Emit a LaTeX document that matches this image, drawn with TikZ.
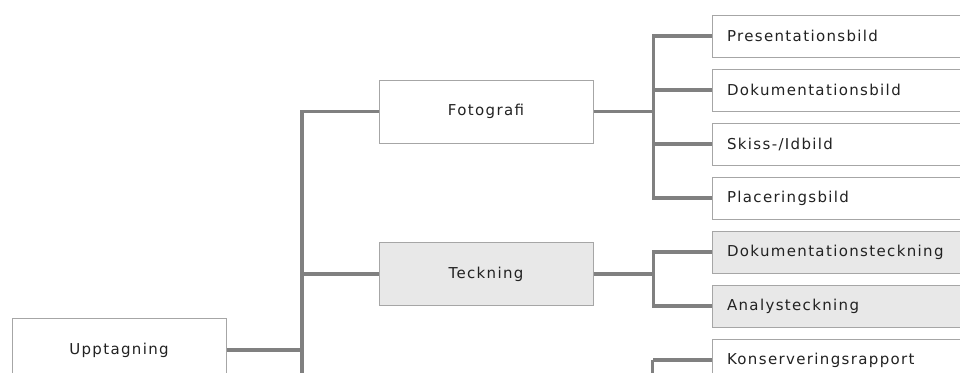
\documentclass[tikz,border=0pt]{standalone}
\usepackage{fontspec}
\setmainfont{DejaVu Sans}[LetterSpace=9]
\usepackage{tikz}
\usetikzlibrary{calc,positioning}
\definecolor{linegray}{HTML}{808080}
\definecolor{bordergray}{HTML}{A6A6A6}
\definecolor{boxgray}{HTML}{E8E8E8}
\definecolor{textgray}{HTML}{222222}
\tikzstyle{midbox}  = [rectangle, minimum width=214pt, minimum height=63pt, text centered, draw=bordergray, line width=1pt, fill=white, text=textgray]
\tikzstyle{leafbox} = [rectangle, minimum width=260pt, minimum height=42pt, inner xsep=15pt, text width=230pt, align=left, draw=bordergray, line width=1pt, fill=white, text=textgray]
\tikzstyle{link}    = [draw=linegray, line width=3.5pt]

\begin{document}
\begin{tikzpicture}[x=1pt, y=-1pt, node distance=54pt, font=\fontsize{15}{18}\selectfont]
        \clip (0,0) rectangle (960,372);
        \fill[white] (0,0) rectangle (960,372);

        \node (upp) [midbox] at (119,350) {Upptagning};
        \node (foto) [midbox] at (486,111.5) {Fotografi};
        \node (teck) [midbox, fill=boxgray] at (486,274) {Teckning};

        \node (pres) [leafbox] at (842,36) {Presentationsbild};
        \node (dbild) [leafbox, below of=pres] {Dokumentationsbild};
        \node (skiss) [leafbox, below of=dbild] {Skiss-/Idbild};
        \node (plac) [leafbox, below of=skiss] {Placeringsbild};
        \node (dteck) [leafbox, fill=boxgray, below of=plac] {Dokumentationsteckning};
        \node (analys) [leafbox, fill=boxgray, below of=dteck] {Analysteckning};
        \node (kons) [leafbox, below of=analys] {Konserveringsrapport};

        \draw [link] (upp.east) -- ++(75.5,0) coordinate (usplit);
        \draw [link] (usplit) |- (foto.west);
        \draw [link] (usplit) |- (teck.west);
        \draw [link] (usplit) -- ++(0,30);

        \draw [link] (foto.east) -- ++(60,0) coordinate (fsplit);
        \foreach \n in {pres,dbild,skiss,plac}
            \draw [link] (fsplit) |- (\n.west);

        \draw [link] (teck.east) -- ++(60,0) coordinate (tsplit);
        \foreach \n in {dteck,analys}
            \draw [link] (tsplit) |- (\n.west);

        \draw [link] (kons.west) -- ++(-59,0) coordinate (ksplit);
        \draw [link] (ksplit) -- ++(0,30);
    \end{tikzpicture}
\end{document}
